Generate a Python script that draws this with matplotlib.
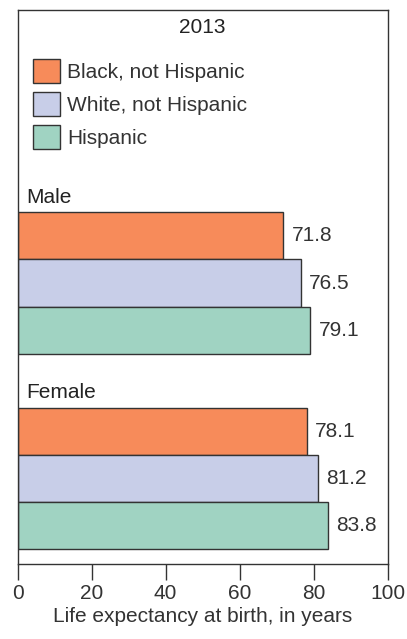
import matplotlib
matplotlib.use('Agg')
import matplotlib.pyplot as plt
from matplotlib.patches import Patch
import numpy as np

plt.rcParams['font.family'] = ['Liberation Sans', 'DejaVu Sans']

groups = ['Male', 'Female']
series = ['Black, not Hispanic', 'White, not Hispanic', 'Hispanic']
values = {
    'Male': [71.8, 76.5, 79.1],
    'Female': [78.1, 81.2, 83.8],
}
colors = ['#F78B5A', '#C8CEE8', '#A0D3C2']
title = '2013'
xlabel = 'Life expectancy at birth, in years'
xticks = [0, 20, 40, 60, 80, 100]

txt = '#333333'
fs = 15
fig = plt.figure(figsize=(4.07, 6.39), dpi=100)
ax = fig.add_axes([0.043, 0.118, 0.910, 0.866])

group_start = [0, 4.13]
for g, start in zip(groups, group_start):
    pos = start + np.arange(len(series))
    ax.barh(pos, values[g], height=1.0, color=colors, edgecolor='#333333', linewidth=1)
    for p, v in zip(pos, values[g]):
        ax.annotate(f'{v:.1f}', (v, p), xytext=(6, 0), textcoords='offset points',
                    va='center', ha='left', fontsize=fs, color=txt)
    ax.annotate(g, (0, start - 0.5), xycoords=('axes fraction', 'data'),
                xytext=(6, 6.5), textcoords='offset points',
                va='baseline', ha='left', fontsize=fs, color='#222222')

ax.set_xlim(0, 100)
ax.set_ylim(6.93, -4.77)
ax.set_yticks([])
ax.set_xticks(xticks)
ax.tick_params(axis='x', direction='out', length=11.5, width=1, color='#333333',
               pad=3, labelsize=fs, labelcolor=txt)
ax.set_xlabel(xlabel, fontsize=fs, color=txt, labelpad=3)
for s in ax.spines.values():
    s.set_color('#333333')
    s.set_linewidth(1)

ax.text(0.5, 0.969, title, transform=ax.transAxes, ha='center', va='center',
        fontsize=fs, color='#222222')

handles = [Patch(facecolor=c, edgecolor='#333333', linewidth=1) for c in colors]
ax.legend(handles, series, loc='upper left', bbox_to_anchor=(0.042, 0.912),
          frameon=False, fontsize=fs, handlelength=1.3, handleheight=1.4,
          handletextpad=0.35, labelspacing=0.42, borderpad=0, borderaxespad=0,
          labelcolor=txt)

fig.savefig('out.png', dpi=100)
